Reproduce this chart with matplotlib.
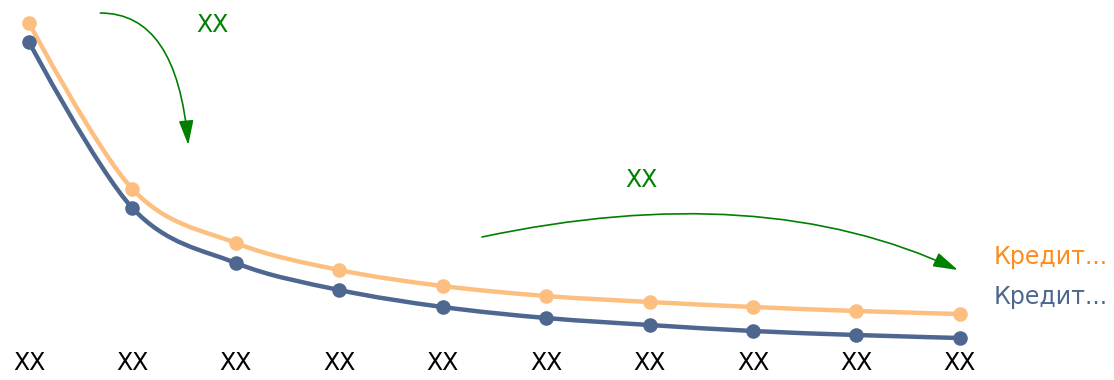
import matplotlib
matplotlib.use('Agg')
import numpy as np
from matplotlib import pyplot as plt
from matplotlib.path import Path
from matplotlib.patches import PathPatch

categories = ['XX'] * 10
credit_a = [327, 161, 107, 80, 64, 54, 48, 43, 39, 36]
credit_b = [308, 142, 87, 60, 43, 32, 25, 19, 15, 12]
series_names = ['Кредит...', 'Кредит...']
arrow_labels = ['XX', 'XX']

line_colors = ['#fdbf7f', '#4e6790']
text_colors = ['#ff8c1a', '#4e6790']
green = '#008000'

plt.rcParams['font.family'] = ['DejaVu Sans']


def smooth_path(x, y, k=1 / 6):
    # cardinal spline, end control points sit on the end points
    pts = np.column_stack([x, y]).astype(float)
    n = len(pts)
    verts = [pts[0]]
    codes = [Path.MOVETO]
    for i in range(n - 1):
        c1 = pts[i] + k * (pts[i + 1] - pts[i - 1]) if i > 0 else pts[i]
        c2 = pts[i + 1] + k * (pts[i] - pts[i + 2]) if i + 2 < n else pts[i + 1]
        verts += [c1, c2, pts[i + 1]]
        codes += [Path.CURVE4] * 3
    return Path(verts, codes)


fig = plt.figure(figsize=(11.14, 3.8), dpi=100)
ax = fig.add_axes([0, 0, 1, 1])
ax.set_xlim(-0.28, 10.49)
ax.set_ylim(-30, 350)
ax.axis('off')

xs = np.arange(len(categories))
for vals, c in zip([credit_a, credit_b], line_colors):
    ax.add_patch(PathPatch(smooth_path(xs, vals), fill=False, edgecolor=c,
                           lw=3.2, capstyle='round', joinstyle='round'))
    ax.plot(xs, vals, 'o', color=c, markersize=10.5, markeredgewidth=0)

for x, lab in zip(xs, categories):
    ax.text(x, -13, lab, ha='center', va='center', fontsize=17, color='black')

ax.text(9.33, 93, series_names[0], ha='left', va='center', fontsize=17, color=text_colors[0])
ax.text(9.33, 53, series_names[1], ha='left', va='center', fontsize=17, color=text_colors[1])

# annotation arrows
arrow_kw = dict(arrowstyle='-|>,head_length=1.0,head_width=0.3', color=green,
                lw=1.2, mutation_scale=15, shrinkA=0, shrinkB=0)
ax.annotate('', xy=(1.54, 205), xytext=(0.69, 337),
            arrowprops=dict(connectionstyle='angle3,angleA=0,angleB=95', **arrow_kw))
ax.text(1.77, 325, arrow_labels[0], ha='center', va='center', fontsize=17, color=green)

ax.annotate('', xy=(8.98, 80), xytext=(4.38, 113),
            arrowprops=dict(connectionstyle='angle3,angleA=12,angleB=-25', **arrow_kw))
ax.text(5.92, 170, arrow_labels[1], ha='center', va='center', fontsize=17, color=green)

fig.savefig('out.png', dpi=100)
